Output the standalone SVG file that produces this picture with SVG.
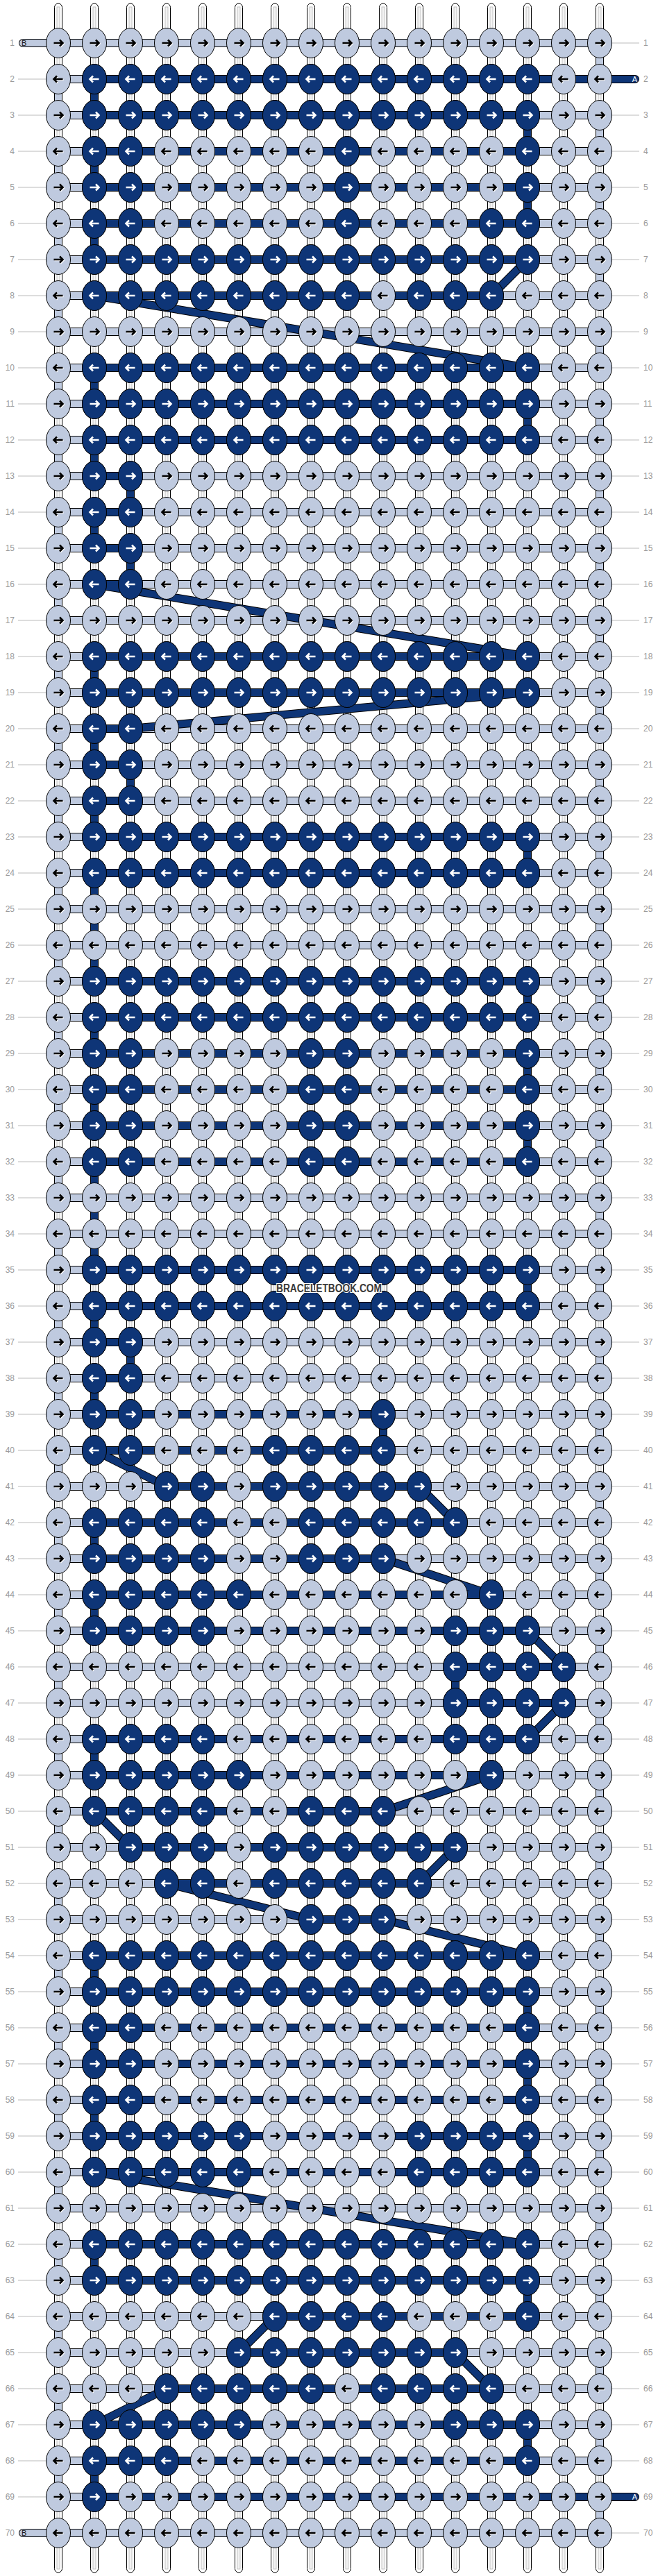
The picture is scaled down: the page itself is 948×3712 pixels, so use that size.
<svg xmlns="http://www.w3.org/2000/svg" width="948" height="3712" viewBox="0 0 948 3712">
<style>
.L{fill:url(#pL)}
.D{fill:url(#pD)}
.lab{font-family:"Liberation Sans Narrow","Liberation Sans",Arial,sans-serif;font-size:12px;fill:#9a9a9a}
.ar{fill:none;stroke-width:2.6;stroke-linecap:butt;stroke-linejoin:miter}
.str{fill:none;stroke-linejoin:round;stroke-linecap:round}
.tl{font-family:"Liberation Sans",Arial,sans-serif;font-size:11px}
</style>
<defs>
<g id="tube"><rect x="-5.5" y="5" width="11" height="3702" rx="5.5" fill="#fff" stroke="#000"/><rect x="-2" y="10" width="4" height="3692" fill="#f2f2f2" stroke="#b8b8b8" stroke-width="0.8"/></g>
<pattern id="pL" patternUnits="userSpaceOnUse" x="58" y="36" width="52" height="104">
<ellipse cx="26" cy="26" rx="17.5" ry="21.5" fill="#bfcadf" stroke="#000"/>
<path class="ar" stroke="#fff" d="M20.5,27H33M29,22.5L33.5,27L29,31.5"/>
<path class="ar" stroke="#000" d="M19.5,26H32M28,21.5L32.5,26L28,30.5"/>
<ellipse cx="26" cy="78" rx="17.5" ry="21.5" fill="#bfcadf" stroke="#000"/>
<path class="ar" stroke="#fff" d="M33.5,79H21M25,74.5L20.5,79L25,83.5"/>
<path class="ar" stroke="#000" d="M32.5,78H20M24,73.5L19.5,78L24,82.5"/>
</pattern>
<pattern id="pD" patternUnits="userSpaceOnUse" x="58" y="36" width="52" height="104">
<ellipse cx="26" cy="26" rx="17.5" ry="21.5" fill="#0e3577" stroke="#000"/>
<path class="ar" stroke="#fff" d="M19.5,26H32M28,21.5L32.5,26L28,30.5"/>
<ellipse cx="26" cy="78" rx="17.5" ry="21.5" fill="#0e3577" stroke="#000"/>
<path class="ar" stroke="#fff" d="M32.5,78H20M24,73.5L19.5,78L24,82.5"/>
</pattern>
<pattern id="ld" patternUnits="userSpaceOnUse" x="0" y="36" width="40" height="52"><rect y="25.5" width="40" height="1" fill="#bbb"/></pattern>
<path id="pathB" d="M33,62H864V114H84V166H864V218H84V270H864V322H84V374H864V426H84V478H864V530H84V582H864V634H84V686H864V738H84V790H864V842H84V894H864V946H84V998H864V1050H84V1102H864V1154H84V1206H864V1258H84V1310H864V1362H84V1414H864V1466H84V1518H864V1570H84V1622H864V1674H84V1726H864V1778H84V1830H864V1882H84V1934H864V1986H84V2038H864V2090H84V2142H864V2194H84V2246H864V2298H84V2350H864V2402H84V2454H864V2506H84V2558H864V2610H84V2662H864V2714H84V2766H864V2818H84V2870H864V2922H84V2974H864V3026H84V3078H864V3130H84V3182H864V3234H84V3286H864V3338H84V3390H864V3442H84V3494H864V3546H84V3598H864V3650H33"/>
<path id="pathA" d="M915,114H136V166H760V218H136V270H760V322H136V374H760L708,426H136L760,530H136V582H760V634H136V686H188V738H136V790H188V842H136L760,946H136V998H760L188,1050H136V1102H188V1154H136V1206H760V1258H136V1414H760V1466H136V1518H760V1570H136V1622H760V1674H136V1830H760V1882H136V1934H188V1986H136V2038H552V2090H136L240,2142H604L656,2194H136V2246H552L708,2298H136V2350H760L812,2402H656V2454H812L760,2506H136V2558H708L552,2610H136L188,2662H656L604,2714H240L448,2766H552L760,2818H136V2870H760V2922H136V2974H760V3026H136V3078H760V3130H136L760,3234H136V3286H760V3338H396L344,3390H656L708,3442H240L136,3494H760V3546H136V3598H915"/>
</defs>
<rect width="948" height="3712" fill="#fff"/>
<g id="leaders">
<rect x="26" y="88" width="40" height="3536" fill="url(#ld)"/>
<rect x="882" y="36" width="39" height="52" fill="url(#ld)"/>
<rect x="882" y="140" width="39" height="3432" fill="url(#ld)"/>
<rect x="882" y="3624" width="39" height="52" fill="url(#ld)"/>
</g>
<g id="labels-left" class="lab" text-anchor="end">
<text x="21" y="66">1</text><text x="21" y="118">2</text><text x="21" y="170">3</text><text x="21" y="222">4</text><text x="21" y="274">5</text><text x="21" y="326">6</text><text x="21" y="378">7</text><text x="21" y="430">8</text><text x="21" y="482">9</text><text x="21" y="534">10</text>
<text x="21" y="586">11</text><text x="21" y="638">12</text><text x="21" y="690">13</text><text x="21" y="742">14</text><text x="21" y="794">15</text><text x="21" y="846">16</text><text x="21" y="898">17</text><text x="21" y="950">18</text><text x="21" y="1002">19</text><text x="21" y="1054">20</text>
<text x="21" y="1106">21</text><text x="21" y="1158">22</text><text x="21" y="1210">23</text><text x="21" y="1262">24</text><text x="21" y="1314">25</text><text x="21" y="1366">26</text><text x="21" y="1418">27</text><text x="21" y="1470">28</text><text x="21" y="1522">29</text><text x="21" y="1574">30</text>
<text x="21" y="1626">31</text><text x="21" y="1678">32</text><text x="21" y="1730">33</text><text x="21" y="1782">34</text><text x="21" y="1834">35</text><text x="21" y="1886">36</text><text x="21" y="1938">37</text><text x="21" y="1990">38</text><text x="21" y="2042">39</text><text x="21" y="2094">40</text>
<text x="21" y="2146">41</text><text x="21" y="2198">42</text><text x="21" y="2250">43</text><text x="21" y="2302">44</text><text x="21" y="2354">45</text><text x="21" y="2406">46</text><text x="21" y="2458">47</text><text x="21" y="2510">48</text><text x="21" y="2562">49</text><text x="21" y="2614">50</text>
<text x="21" y="2666">51</text><text x="21" y="2718">52</text><text x="21" y="2770">53</text><text x="21" y="2822">54</text><text x="21" y="2874">55</text><text x="21" y="2926">56</text><text x="21" y="2978">57</text><text x="21" y="3030">58</text><text x="21" y="3082">59</text><text x="21" y="3134">60</text>
<text x="21" y="3186">61</text><text x="21" y="3238">62</text><text x="21" y="3290">63</text><text x="21" y="3342">64</text><text x="21" y="3394">65</text><text x="21" y="3446">66</text><text x="21" y="3498">67</text><text x="21" y="3550">68</text><text x="21" y="3602">69</text><text x="21" y="3654">70</text>
</g>
<g id="labels-right" class="lab">
<text x="927" y="66">1</text><text x="927" y="118">2</text><text x="927" y="170">3</text><text x="927" y="222">4</text><text x="927" y="274">5</text><text x="927" y="326">6</text><text x="927" y="378">7</text><text x="927" y="430">8</text><text x="927" y="482">9</text><text x="927" y="534">10</text>
<text x="927" y="586">11</text><text x="927" y="638">12</text><text x="927" y="690">13</text><text x="927" y="742">14</text><text x="927" y="794">15</text><text x="927" y="846">16</text><text x="927" y="898">17</text><text x="927" y="950">18</text><text x="927" y="1002">19</text><text x="927" y="1054">20</text>
<text x="927" y="1106">21</text><text x="927" y="1158">22</text><text x="927" y="1210">23</text><text x="927" y="1262">24</text><text x="927" y="1314">25</text><text x="927" y="1366">26</text><text x="927" y="1418">27</text><text x="927" y="1470">28</text><text x="927" y="1522">29</text><text x="927" y="1574">30</text>
<text x="927" y="1626">31</text><text x="927" y="1678">32</text><text x="927" y="1730">33</text><text x="927" y="1782">34</text><text x="927" y="1834">35</text><text x="927" y="1886">36</text><text x="927" y="1938">37</text><text x="927" y="1990">38</text><text x="927" y="2042">39</text><text x="927" y="2094">40</text>
<text x="927" y="2146">41</text><text x="927" y="2198">42</text><text x="927" y="2250">43</text><text x="927" y="2302">44</text><text x="927" y="2354">45</text><text x="927" y="2406">46</text><text x="927" y="2458">47</text><text x="927" y="2510">48</text><text x="927" y="2562">49</text><text x="927" y="2614">50</text>
<text x="927" y="2666">51</text><text x="927" y="2718">52</text><text x="927" y="2770">53</text><text x="927" y="2822">54</text><text x="927" y="2874">55</text><text x="927" y="2926">56</text><text x="927" y="2978">57</text><text x="927" y="3030">58</text><text x="927" y="3082">59</text><text x="927" y="3134">60</text>
<text x="927" y="3186">61</text><text x="927" y="3238">62</text><text x="927" y="3290">63</text><text x="927" y="3342">64</text><text x="927" y="3394">65</text><text x="927" y="3446">66</text><text x="927" y="3498">67</text><text x="927" y="3550">68</text><text x="927" y="3602">69</text><text x="927" y="3654">70</text>
</g>
<g id="tubes">
<use href="#tube" x="84"/><use href="#tube" x="136"/><use href="#tube" x="188"/><use href="#tube" x="240"/><use href="#tube" x="292"/><use href="#tube" x="344"/><use href="#tube" x="396"/><use href="#tube" x="448"/>
<use href="#tube" x="500"/><use href="#tube" x="552"/><use href="#tube" x="604"/><use href="#tube" x="656"/><use href="#tube" x="708"/><use href="#tube" x="760"/><use href="#tube" x="812"/><use href="#tube" x="864"/>
</g>
<g id="connectors">
<use href="#pathB" class="str" stroke="#000" stroke-width="12"/>
<use href="#pathB" class="str" stroke="#bfcadf" stroke-width="10"/>
<use href="#pathA" class="str" stroke="#000" stroke-width="12"/>
<use href="#pathA" class="str" stroke="#0e3577" stroke-width="10"/>
<text class="tl" x="31" y="66" fill="#111">B</text>
<text class="tl" x="918" y="118" fill="#fff" text-anchor="end">A</text>
<text class="tl" x="918" y="3602" fill="#fff" text-anchor="end">A</text>
<text class="tl" x="31" y="3654" fill="#111">B</text>
</g>
<g id="knots">
<g id="row-1"><rect class="L" x="58" y="36" width="832" height="52"/></g>
<g id="row-2"><rect class="L" x="58" y="88" width="832" height="52"/><rect class="D" x="110" y="88" width="676" height="52"/></g>
<g id="row-3"><rect class="L" x="58" y="140" width="832" height="52"/><rect class="D" x="110" y="140" width="676" height="52"/></g>
<g id="row-4"><rect class="L" x="58" y="192" width="832" height="52"/><rect class="D" x="110" y="192" width="104" height="52"/><rect class="D" x="474" y="192" width="52" height="52"/><rect class="D" x="734" y="192" width="52" height="52"/></g>
<g id="row-5"><rect class="L" x="58" y="244" width="832" height="52"/><rect class="D" x="110" y="244" width="104" height="52"/><rect class="D" x="474" y="244" width="52" height="52"/><rect class="D" x="734" y="244" width="52" height="52"/></g>
<g id="row-6"><rect class="L" x="58" y="296" width="832" height="52"/><rect class="D" x="110" y="296" width="104" height="52"/><rect class="D" x="474" y="296" width="52" height="52"/><rect class="D" x="682" y="296" width="104" height="52"/></g>
<g id="row-7"><rect class="L" x="58" y="348" width="832" height="52"/><rect class="D" x="110" y="348" width="676" height="52"/></g>
<g id="row-8"><rect class="L" x="58" y="400" width="832" height="52"/><rect class="D" x="110" y="400" width="416" height="52"/><rect class="D" x="578" y="400" width="156" height="52"/></g>
<g id="row-9"><rect class="L" x="58" y="452" width="832" height="52"/></g>
<g id="row-10"><rect class="L" x="58" y="504" width="832" height="52"/><rect class="D" x="110" y="504" width="676" height="52"/></g>
<g id="row-11"><rect class="L" x="58" y="556" width="832" height="52"/><rect class="D" x="110" y="556" width="676" height="52"/></g>
<g id="row-12"><rect class="L" x="58" y="608" width="832" height="52"/><rect class="D" x="110" y="608" width="676" height="52"/></g>
<g id="row-13"><rect class="L" x="58" y="660" width="832" height="52"/><rect class="D" x="110" y="660" width="104" height="52"/></g>
<g id="row-14"><rect class="L" x="58" y="712" width="832" height="52"/><rect class="D" x="110" y="712" width="104" height="52"/></g>
<g id="row-15"><rect class="L" x="58" y="764" width="832" height="52"/><rect class="D" x="110" y="764" width="104" height="52"/></g>
<g id="row-16"><rect class="L" x="58" y="816" width="832" height="52"/><rect class="D" x="110" y="816" width="104" height="52"/></g>
<g id="row-17"><rect class="L" x="58" y="868" width="832" height="52"/></g>
<g id="row-18"><rect class="L" x="58" y="920" width="832" height="52"/><rect class="D" x="110" y="920" width="676" height="52"/></g>
<g id="row-19"><rect class="L" x="58" y="972" width="832" height="52"/><rect class="D" x="110" y="972" width="676" height="52"/></g>
<g id="row-20"><rect class="L" x="58" y="1024" width="832" height="52"/><rect class="D" x="110" y="1024" width="104" height="52"/></g>
<g id="row-21"><rect class="L" x="58" y="1076" width="832" height="52"/><rect class="D" x="110" y="1076" width="104" height="52"/></g>
<g id="row-22"><rect class="L" x="58" y="1128" width="832" height="52"/><rect class="D" x="110" y="1128" width="104" height="52"/></g>
<g id="row-23"><rect class="L" x="58" y="1180" width="832" height="52"/><rect class="D" x="110" y="1180" width="676" height="52"/></g>
<g id="row-24"><rect class="L" x="58" y="1232" width="832" height="52"/><rect class="D" x="110" y="1232" width="676" height="52"/></g>
<g id="row-25"><rect class="L" x="58" y="1284" width="832" height="52"/></g>
<g id="row-26"><rect class="L" x="58" y="1336" width="832" height="52"/></g>
<g id="row-27"><rect class="L" x="58" y="1388" width="832" height="52"/><rect class="D" x="110" y="1388" width="676" height="52"/></g>
<g id="row-28"><rect class="L" x="58" y="1440" width="832" height="52"/><rect class="D" x="110" y="1440" width="676" height="52"/></g>
<g id="row-29"><rect class="L" x="58" y="1492" width="832" height="52"/><rect class="D" x="110" y="1492" width="104" height="52"/><rect class="D" x="422" y="1492" width="104" height="52"/><rect class="D" x="734" y="1492" width="52" height="52"/></g>
<g id="row-30"><rect class="L" x="58" y="1544" width="832" height="52"/><rect class="D" x="110" y="1544" width="104" height="52"/><rect class="D" x="422" y="1544" width="104" height="52"/><rect class="D" x="734" y="1544" width="52" height="52"/></g>
<g id="row-31"><rect class="L" x="58" y="1596" width="832" height="52"/><rect class="D" x="110" y="1596" width="104" height="52"/><rect class="D" x="422" y="1596" width="104" height="52"/><rect class="D" x="734" y="1596" width="52" height="52"/></g>
<g id="row-32"><rect class="L" x="58" y="1648" width="832" height="52"/><rect class="D" x="110" y="1648" width="104" height="52"/><rect class="D" x="422" y="1648" width="104" height="52"/><rect class="D" x="734" y="1648" width="52" height="52"/></g>
<g id="row-33"><rect class="L" x="58" y="1700" width="832" height="52"/></g>
<g id="row-34"><rect class="L" x="58" y="1752" width="832" height="52"/></g>
<g id="row-35"><rect class="L" x="58" y="1804" width="832" height="52"/><rect class="D" x="110" y="1804" width="676" height="52"/></g>
<g id="row-36"><rect class="L" x="58" y="1856" width="832" height="52"/><rect class="D" x="110" y="1856" width="676" height="52"/></g>
<g id="row-37"><rect class="L" x="58" y="1908" width="832" height="52"/><rect class="D" x="110" y="1908" width="104" height="52"/></g>
<g id="row-38"><rect class="L" x="58" y="1960" width="832" height="52"/><rect class="D" x="110" y="1960" width="104" height="52"/></g>
<g id="row-39"><rect class="L" x="58" y="2012" width="832" height="52"/><rect class="D" x="110" y="2012" width="104" height="52"/><rect class="D" x="526" y="2012" width="52" height="52"/></g>
<g id="row-40"><rect class="L" x="58" y="2064" width="832" height="52"/><rect class="D" x="110" y="2064" width="104" height="52"/><rect class="D" x="370" y="2064" width="208" height="52"/></g>
<g id="row-41"><rect class="L" x="58" y="2116" width="832" height="52"/><rect class="D" x="214" y="2116" width="104" height="52"/><rect class="D" x="370" y="2116" width="260" height="52"/></g>
<g id="row-42"><rect class="L" x="58" y="2168" width="832" height="52"/><rect class="D" x="110" y="2168" width="208" height="52"/><rect class="D" x="422" y="2168" width="260" height="52"/></g>
<g id="row-43"><rect class="L" x="58" y="2220" width="832" height="52"/><rect class="D" x="110" y="2220" width="208" height="52"/><rect class="D" x="422" y="2220" width="156" height="52"/></g>
<g id="row-44"><rect class="L" x="58" y="2272" width="832" height="52"/><rect class="D" x="110" y="2272" width="260" height="52"/><rect class="D" x="682" y="2272" width="52" height="52"/></g>
<g id="row-45"><rect class="L" x="58" y="2324" width="832" height="52"/><rect class="D" x="110" y="2324" width="208" height="52"/><rect class="D" x="630" y="2324" width="156" height="52"/></g>
<g id="row-46"><rect class="L" x="58" y="2376" width="832" height="52"/><rect class="D" x="630" y="2376" width="208" height="52"/></g>
<g id="row-47"><rect class="L" x="58" y="2428" width="832" height="52"/><rect class="D" x="630" y="2428" width="208" height="52"/></g>
<g id="row-48"><rect class="L" x="58" y="2480" width="832" height="52"/><rect class="D" x="110" y="2480" width="208" height="52"/><rect class="D" x="630" y="2480" width="156" height="52"/></g>
<g id="row-49"><rect class="L" x="58" y="2532" width="832" height="52"/><rect class="D" x="110" y="2532" width="260" height="52"/><rect class="D" x="682" y="2532" width="52" height="52"/></g>
<g id="row-50"><rect class="L" x="58" y="2584" width="832" height="52"/><rect class="D" x="110" y="2584" width="208" height="52"/><rect class="D" x="422" y="2584" width="156" height="52"/></g>
<g id="row-51"><rect class="L" x="58" y="2636" width="832" height="52"/><rect class="D" x="162" y="2636" width="156" height="52"/><rect class="D" x="370" y="2636" width="312" height="52"/></g>
<g id="row-52"><rect class="L" x="58" y="2688" width="832" height="52"/><rect class="D" x="214" y="2688" width="104" height="52"/><rect class="D" x="370" y="2688" width="260" height="52"/></g>
<g id="row-53"><rect class="L" x="58" y="2740" width="832" height="52"/><rect class="D" x="422" y="2740" width="156" height="52"/></g>
<g id="row-54"><rect class="L" x="58" y="2792" width="832" height="52"/><rect class="D" x="110" y="2792" width="676" height="52"/></g>
<g id="row-55"><rect class="L" x="58" y="2844" width="832" height="52"/><rect class="D" x="110" y="2844" width="676" height="52"/></g>
<g id="row-56"><rect class="L" x="58" y="2896" width="832" height="52"/><rect class="D" x="110" y="2896" width="104" height="52"/><rect class="D" x="734" y="2896" width="52" height="52"/></g>
<g id="row-57"><rect class="L" x="58" y="2948" width="832" height="52"/><rect class="D" x="110" y="2948" width="104" height="52"/><rect class="D" x="734" y="2948" width="52" height="52"/></g>
<g id="row-58"><rect class="L" x="58" y="3000" width="832" height="52"/><rect class="D" x="110" y="3000" width="104" height="52"/><rect class="D" x="734" y="3000" width="52" height="52"/></g>
<g id="row-59"><rect class="L" x="58" y="3052" width="832" height="52"/><rect class="D" x="110" y="3052" width="260" height="52"/><rect class="D" x="578" y="3052" width="208" height="52"/></g>
<g id="row-60"><rect class="L" x="58" y="3104" width="832" height="52"/><rect class="D" x="110" y="3104" width="260" height="52"/><rect class="D" x="578" y="3104" width="208" height="52"/></g>
<g id="row-61"><rect class="L" x="58" y="3156" width="832" height="52"/></g>
<g id="row-62"><rect class="L" x="58" y="3208" width="832" height="52"/><rect class="D" x="110" y="3208" width="676" height="52"/></g>
<g id="row-63"><rect class="L" x="58" y="3260" width="832" height="52"/><rect class="D" x="110" y="3260" width="676" height="52"/></g>
<g id="row-64"><rect class="L" x="58" y="3312" width="832" height="52"/><rect class="D" x="370" y="3312" width="208" height="52"/><rect class="D" x="734" y="3312" width="52" height="52"/></g>
<g id="row-65"><rect class="L" x="58" y="3364" width="832" height="52"/><rect class="D" x="318" y="3364" width="364" height="52"/></g>
<g id="row-66"><rect class="L" x="58" y="3416" width="832" height="52"/><rect class="D" x="214" y="3416" width="260" height="52"/><rect class="D" x="526" y="3416" width="208" height="52"/></g>
<g id="row-67"><rect class="L" x="58" y="3468" width="832" height="52"/><rect class="D" x="110" y="3468" width="260" height="52"/><rect class="D" x="630" y="3468" width="156" height="52"/></g>
<g id="row-68"><rect class="L" x="58" y="3520" width="832" height="52"/><rect class="D" x="110" y="3520" width="156" height="52"/><rect class="D" x="734" y="3520" width="52" height="52"/></g>
<g id="row-69"><rect class="L" x="58" y="3572" width="832" height="52"/><rect class="D" x="110" y="3572" width="52" height="52"/></g>
<g id="row-70"><rect class="L" x="58" y="3624" width="832" height="52"/></g>
</g>
<g id="watermark"><text x="474" y="1862" text-anchor="middle" font-family="'Liberation Sans Narrow','Liberation Sans',Arial,sans-serif" font-weight="bold" font-size="16" fill="#3c3c3c" stroke="#fff" stroke-width="2" paint-order="stroke" textLength="152" lengthAdjust="spacingAndGlyphs">BRACELETBOOK.COM</text></g>
</svg>
